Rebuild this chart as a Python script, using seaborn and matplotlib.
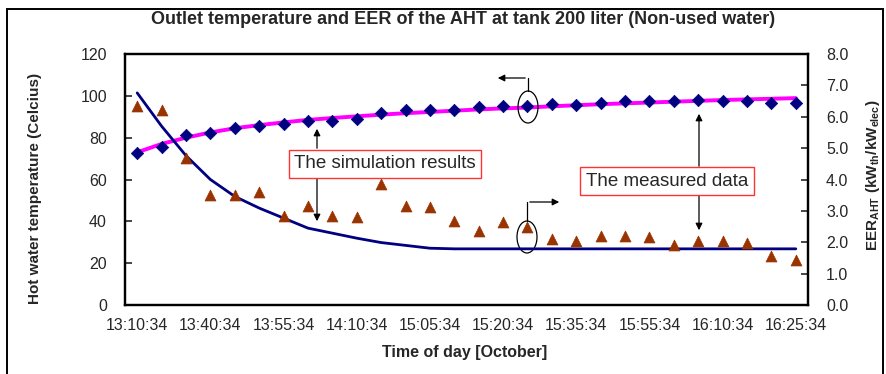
import matplotlib
matplotlib.use("Agg")
import matplotlib.pyplot as plt
import seaborn as sns
import pandas as pd
import numpy as np
from matplotlib.patches import Ellipse, Rectangle

# ---- data ----
tick_labels = ["13:10:34", "13:40:34", "13:55:34", "14:10:34", "15:05:34",
               "15:20:34", "15:35:34", "15:55:34", "16:10:34", "16:25:34"]
tick_positions = [0, 3, 6, 9, 12, 15, 18, 21, 24, 27]

temp_measured = [72.6, 75.7, 81.3, 82.2, 84.8, 85.5, 86.5, 88.0, 88.2, 89.0,
                 91.7, 93.3, 93.3, 93.3, 94.9, 95.2, 95.2, 96.2, 95.7, 96.8,
                 97.3, 97.3, 97.3, 97.8, 97.3, 97.3, 96.8, 96.8]
temp_simulated = [73.0, 77.0, 80.0, 82.5, 84.5, 86.0, 87.3, 88.5, 89.4, 90.2,
                  91.0, 91.7, 92.3, 92.9, 93.5, 94.0, 94.4, 95.0, 95.5, 96.0,
                  96.4, 96.8, 97.2, 97.6, 98.0, 98.3, 98.6, 98.9]
eer_measured = [6.34, 6.21, 4.69, 3.51, 3.51, 3.59, 2.85, 3.14, 2.85, 2.79,
                3.86, 3.16, 3.11, 2.68, 2.37, 2.63, 2.50, 2.10, 2.05, 2.21,
                2.21, 2.16, 1.90, 2.05, 2.05, 1.97, 1.57, 1.44]
eer_simulated = [6.76, 5.70, 4.76, 4.00, 3.46, 3.09, 2.77, 2.45, 2.29, 2.13,
                 1.99, 1.90, 1.81, 1.79, 1.79, 1.79, 1.79, 1.79, 1.79, 1.79,
                 1.79, 1.79, 1.79, 1.79, 1.79, 1.79, 1.79, 1.79]

n = len(temp_measured)
df = pd.DataFrame({
    "idx": np.arange(n),
    "temp_meas": temp_measured,
    "temp_sim": temp_simulated,
    "eer_meas": eer_measured,
    "eer_sim": eer_simulated,
})

sns.set_style("white")
plt.rcParams["font.family"] = ["Liberation Sans", "DejaVu Sans"]
plt.rcParams["mathtext.fontset"] = "custom"
plt.rcParams["mathtext.rm"] = "Liberation Sans"
plt.rcParams["mathtext.bf"] = "Liberation Sans:bold"

W, H = 886, 374
fig = plt.figure(figsize=(W / 100, H / 100), dpi=100)
ax = fig.add_axes([125 / W, 1 - 305 / H, (808 - 125) / W, (305 - 54) / H])
ax2 = ax.twinx()

navy = "#000080"
magenta = "#FF00FF"
brown = "#993300"

# left axis: temperature
sns.lineplot(data=df, x="idx", y="temp_sim", ax=ax, color=magenta, lw=2.8, zorder=3)
sns.scatterplot(data=df, x="idx", y="temp_meas", ax=ax, marker="D", color=navy,
                s=40, edgecolor=navy, linewidth=0.5, zorder=4)
# right axis: EER
sns.lineplot(data=df, x="idx", y="eer_sim", ax=ax2, color=navy, lw=2.0, zorder=3)
sns.scatterplot(data=df, x="idx", y="eer_meas", ax=ax2, marker="^", color=brown,
                s=62, edgecolor=brown, linewidth=0.5, zorder=4)

ax.set_xlim(-0.5, n - 0.5)
ax.set_ylim(0, 120)
ax2.set_ylim(0, 8)
ax.set_yticks(np.arange(0, 121, 20))
ax2.set_yticks(np.arange(0, 8.1, 1))
ax2.set_yticklabels([f"{v:.1f}" for v in np.arange(0, 8.1, 1)])

ax.set_xticks(np.arange(-0.5, n, 1))
ax.set_xticklabels([])
ax.set_xticks(tick_positions, minor=True)
ax.set_xticklabels(tick_labels, minor=True)
ax.tick_params(axis="x", which="major", direction="in", length=4, width=1.2, color="black")
ax.tick_params(axis="x", which="minor", length=0, pad=9, labelsize=11.5)
ax.tick_params(axis="y", direction="in", length=5, width=1.2, labelsize=11.5, pad=13)
ax2.tick_params(axis="y", direction="in", length=5, width=1.2, labelsize=11.5, pad=13)

for a in (ax, ax2):
    for sp in a.spines.values():
        sp.set_color("black")
        sp.set_linewidth(1.6)
        sp.set_visible(True)

ax.set_xlabel("")
ax.set_ylabel("")
ax2.set_ylabel("")

fig.text(465 / W, 1 - 352 / H, "Time of day [October]", ha="center", va="center",
         fontsize=11.5, fontweight="bold")
fig.text(35 / W, 1 - 188 / H, "Hot water temperature (Celcius)", ha="center",
         va="center", rotation=90, fontsize=11, fontweight="bold")
fig.text(873 / W, 1 - 175 / H,
         r"EER$_{\mathbf{AHT}}$ (kW$_{\mathbf{th}}$/kW$_{\mathbf{elec}}$)",
         ha="center", va="center", rotation=90, fontsize=11, fontweight="bold")

fig.text(463 / W, 1 - 20 / H,
         "Outlet temperature and EER of the AHT at tank 200 liter (Non-used water)",
         ha="center", va="center", fontsize=13, fontweight="bold")

# ---- annotations (in data coords of ax: x index, y temperature) ----
def px2data(xp, yp):
    x = -0.5 + (xp - 125) / (808 - 125) * n
    y = (305 - yp) / (305 - 54) * 120
    return x, y

bbox_red = dict(boxstyle="square,pad=0.3", fc="white", ec="#FF3333", lw=1.0)
cx, cy = px2data(385, 164)
ax.text(cx, cy, "The simulation results", ha="center", va="center",
        fontsize=13.5, bbox=bbox_red, zorder=6)
cx, cy = px2data(667, 181)
ax.text(cx, cy, "The measured data", ha="center", va="center",
        fontsize=13.5, bbox=bbox_red, zorder=6)

arrow_kw = dict(arrowstyle="-|>", color="black", lw=0.9, mutation_scale=10)
def arrow(p_from, p_to):
    ax.annotate("", xy=px2data(*p_to), xytext=px2data(*p_from),
                arrowprops=arrow_kw, zorder=5)

arrow((317, 151), (317, 126))
arrow((317, 176), (317, 224))
arrow((699, 169), (699, 111))
arrow((699, 193), (699, 233))

# ellipses
for (ex, ey) in [(528, 107), (527, 237)]:
    c = px2data(ex, ey)
    w = 20 / (808 - 125) * n
    h = 32 / (305 - 54) * 120
    ax.add_patch(Ellipse(c, w, h, fill=False, ec="black", lw=0.9, zorder=5))

# elbow arrows
ax.plot(*zip(px2data(528, 91), px2data(528, 78)), color="black", lw=0.9, zorder=5)
arrow((528, 78), (495, 78))
ax.plot(*zip(px2data(527, 221), px2data(527, 202)), color="black", lw=0.9, zorder=5)
arrow((527, 202), (562, 202))

# outer frame
fig.patches.append(Rectangle((7 / W, -0.05), (883 - 7) / W, 1.05 - 9 / H,
                             transform=fig.transFigure, fill=False, ec="black", lw=1.4))

fig.savefig("out.png", dpi=100)
